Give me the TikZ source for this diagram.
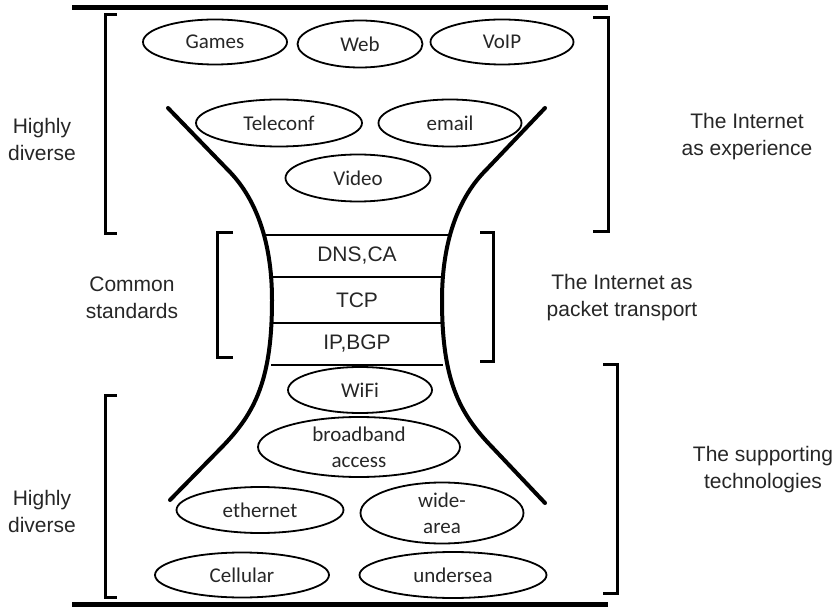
\documentclass[tikz,border=0pt]{standalone}
\usepackage{fontspec}
\setmainfont{Liberation Sans}
\newfontfamily\calib{Carlito}
\usetikzlibrary{shapes.geometric}
\begin{document}
\begin{tikzpicture}[x=1pt,y=-1pt,
  oval/.style={ellipse, draw, line width=1.8pt, inner sep=0pt, text=black!85,
    font=\calib\fontsize{21}{26}\selectfont, align=center},
  lbl/.style={font=\fontsize{21}{27}\selectfont, align=center, text=black!85},
  layertxt/.style={font=\fontsize{21}{27}\selectfont, text=black!85},
  brk/.style={line width=3pt},
  hour/.style={line width=4pt, line cap=round},
  layer/.style={line width=1.8pt},
  rule/.style={line width=5pt}]
\useasboundingbox (0,0) rectangle (835,609);

% thick top and bottom rules
\draw[rule] (72,8) -- (608,8);
\draw[rule] (72,604) -- (608,604);

% brackets
\draw[brk] (117,15) -- (105,15) -- (105,234) -- (117,234);
\draw[brk] (593,18) -- (608,18) -- (608,232) -- (593,232);
\draw[brk] (233,233) -- (217,233) -- (217,358) -- (233,358);
\draw[brk] (480,233) -- (493,233) -- (493,362) -- (480,362);
\draw[brk] (117,395) -- (105,395) -- (105,597) -- (117,597);
\draw[brk] (603,365) -- (617,365) -- (617,593) -- (603,593);

% layer separators
\draw[layer] (264,235) -- (450,235);
\draw[layer] (270,277) -- (444,277);
\draw[layer] (271,323) -- (443,323);
\draw[layer] (271,365) -- (443,365);

% hourglass
\draw[hour] (168,108) -- (228,170) .. controls (255,197) and (272,240) .. (272,300)
  .. controls (272,380) and (255,413) .. (222,447) -- (170,500);
\draw[hour] (545,108) -- (486,170) .. controls (459,197) and (442,240) .. (442,300)
  .. controls (442,380) and (459,413) .. (492,447) -- (545,503);

% layer texts
\node[layertxt] (dns) at (357,256) {DNS,CA};
\node[layertxt] (tcp) at (357,300) {TCP};
\node[layertxt] (ipb) at (357,344) {IP,BGP};

% top ovals
\node[oval, minimum width=144pt, minimum height=45pt] (games) at (215,42) {Games};
\node[oval, minimum width=125pt, minimum height=47pt] (web) at (360,44) {Web};
\node[oval, minimum width=143pt, minimum height=45pt] (voip) at (502,42) {VoIP};
\node[oval, minimum width=166pt, minimum height=47pt] (tele) at (279,123) {Teleconf};
\node[oval, minimum width=143pt, minimum height=47pt] (email) at (450,123) {email};
\node[oval, minimum width=145pt, minimum height=47pt] (video) at (358,178) {Video};

% bottom ovals
\node[oval, minimum width=144pt, minimum height=46pt] (wifi) at (360,390) {WiFi};
\node[oval, minimum width=202pt, minimum height=60pt] (bb) at (359,447) {broadband\\access};
\node[oval, minimum width=167pt, minimum height=46pt] (eth) at (260,510) {ethernet};
\node[oval, minimum width=163pt, minimum height=61pt] (wide) at (442,513) {wide-\\area};
\node[oval, minimum width=174pt, minimum height=45pt] (cell) at (242,575) {Cellular};
\node[oval, minimum width=187pt, minimum height=46pt] (under) at (453,575) {undersea};

% side labels
\node[lbl] (hd1) at (42,139) {Highly\\diverse};
\node[lbl] (cs) at (132,298) {Common\\standards};
\node[lbl] (hd2) at (42,511) {Highly\\diverse};
\node[lbl] (ie) at (747,137) {The Internet\\as experience};
\node[lbl] (ipt) at (622,298) {The Internet as\\packet transport};
\node[lbl] (st) at (763,470) {The supporting\\technologies};
\end{tikzpicture}
\end{document}
